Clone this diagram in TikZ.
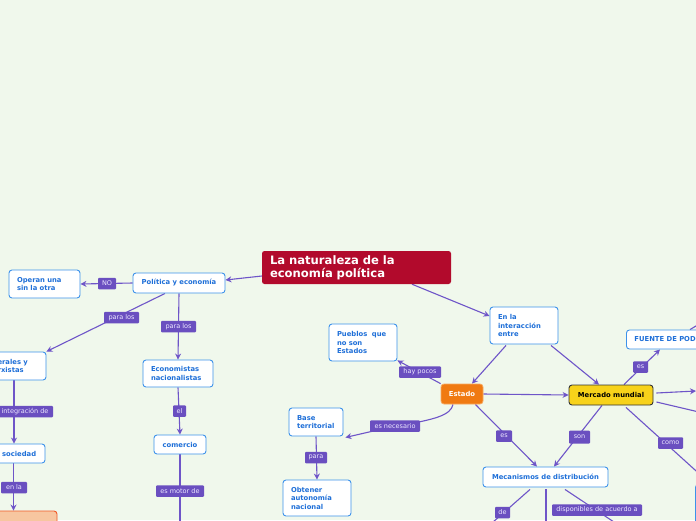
\documentclass[tikz,border=0pt]{standalone}
\usepackage{fontspec}
\setmainfont{DejaVu Sans}
\usetikzlibrary{arrows.meta,calc}
\definecolor{bgcol}{HTML}{F0F8EC}
\definecolor{boxblue}{HTML}{3D92EA}
\definecolor{txtblue}{HTML}{1E6FD8}
\definecolor{linecol}{HTML}{6E55C8}
\definecolor{lblpurple}{HTML}{6A4FC0}
\definecolor{lbltxt}{HTML}{EDE8FF}
\definecolor{titlecol}{HTML}{B20A2C}
\definecolor{estadocol}{HTML}{F07A12}
\definecolor{estadoedge}{HTML}{F6A860}
\definecolor{mercadocol}{HTML}{F7D21A}
\definecolor{orangefill}{HTML}{F7C6A0}
\definecolor{orangeedge}{HTML}{F05A28}
\pgfdeclarelayer{bg}
\pgfdeclarelayer{edges}
\pgfsetlayers{bg,edges,main}
\tikzset{
  box/.style={draw=boxblue, fill=white, rounded corners=3pt, line width=0.9pt,
    text=txtblue, font=\fontsize{6.8}{8.5}\selectfont\bfseries,
    inner xsep=8pt, inner ysep=0pt, align=left},
  cbox/.style={box, align=center},
  titlebox/.style={fill=titlecol, rounded corners=2.5pt, text=white,
    font=\fontsize{11.6}{13}\selectfont\bfseries, inner xsep=8pt, inner ysep=0pt, align=left},
  estadobox/.style={draw=estadoedge, fill=estadocol, rounded corners=3pt, line width=0.8pt,
    text=white, font=\fontsize{6.8}{8.5}\selectfont\bfseries, inner sep=0pt},
  mercadobox/.style={draw=black!80, fill=mercadocol, rounded corners=3pt, line width=0.9pt,
    text=black, font=\fontsize{6.8}{8.5}\selectfont\bfseries, inner sep=0pt},
  orangebox/.style={draw=orangeedge, fill=orangefill, rounded corners=3pt, line width=0.9pt, inner sep=0pt},
  lbl/.style={fill=lblpurple, text=lbltxt, font=\fontsize{6.5}{7}\selectfont,
    inner sep=0pt, rounded corners=1pt, minimum height=11.5pt},
  conn/.style={draw=linecol, line width=1.1pt, -{Stealth[length=6pt,width=6pt]}},
  plainconn/.style={draw=linecol, line width=1.1pt}
}
\begin{document}
\begin{tikzpicture}[x=1pt,y=-1pt]
\begin{pgfonlayer}{bg}
\fill[bgcol] (0,0) rectangle (696,520);
\end{pgfonlayer}
\useasboundingbox (0,0) rectangle (696,520);

% main nodes
\node[titlebox, text width=173pt, minimum height=33pt] (title) at (356.5,267.5) {La naturaleza de la\\economía política};
\node[cbox, minimum width=92pt, minimum height=20pt] (pol) at (179,283) {Política y economía};
\node[box, text width=55pt, minimum height=28pt] (operan) at (44.5,284) {Operan una\\sin la otra};
\node[box, text width=52pt, minimum height=28pt] (lib) at (12,366) {Liberales y\\marxistas};
\node[box, text width=54pt, minimum height=27pt] (econnac) at (178,373.5) {Economistas\\nacionalistas};
\node[cbox, minimum width=63pt, minimum height=19pt] (soc) at (13.5,453.5) {La sociedad};
\node[orangebox, minimum width=87pt, minimum height=34pt] (eco) at (13.5,528) {};
\node[cbox, minimum width=52pt, minimum height=19pt] (comercio) at (180,444.5) {comercio};
\node[box, text width=52pt, minimum height=37pt] (pueblos) at (363,342.5) {Pueblos\ \ que\\no son\\Estados};
\node[box, text width=52pt, minimum height=37pt] (inter) at (524,325.5) {En la\\interacción\\entre};
\node[estadobox, minimum width=42pt, minimum height=20pt] (estado) at (462,394) {Estado};
\node[mercadobox, minimum width=84pt, minimum height=20pt] (mercado) at (611,395) {Mercado mundial};
\node[box, anchor=west, minimum height=19pt] (fuente) at (626,339.5) {FUENTE DE PODER};
\node[box, anchor=west, minimum width=60pt, minimum height=20pt] (r1) at (696,391) {};
\node[box, anchor=north west, minimum width=60pt, minimum height=40pt] (r3) at (695,484) {};
\node[box, text width=38pt, minimum height=28pt] (base) at (316,422) {Base\\territorial};
\node[box, text width=52pt, minimum height=36pt] (obtener) at (317,498) {Obtener\\autonomía\\nacional};
\node[cbox, minimum width=125pt, minimum height=20pt] (mec) at (545.5,477) {Mecanismos de distribución};

% labels
\node[lbl, minimum width=18pt] (lno) at (107,283.5) {NO};
\node[lbl, minimum width=35pt] (lpara1) at (121.5,317.5) {para los};
\node[lbl, minimum width=35pt] (lpara2) at (178.5,326.5) {para los};
\node[lbl, minimum width=56pt] (linteg) at (25,411.5) {integración de};
\node[lbl, minimum width=26pt] (lenla) at (14,487.5) {en la};
\node[lbl, minimum width=13pt] (lel) at (179.5,411) {el};
\node[lbl, minimum width=48pt] (lmotor) at (180,491) {es motor de};
\node[lbl, minimum width=42pt] (lhay) at (420,372) {hay pocos};
\node[lbl, minimum width=50pt] (lnec) at (395,426) {es necesario};
\node[lbl, minimum width=22pt] (lparab) at (316,457.5) {para};
\node[lbl, minimum width=16pt] (les1) at (504,436) {es};
\node[lbl, minimum width=21pt, minimum height=13pt] (lson) at (579.5,437) {son};
\node[lbl, minimum width=15pt] (les2) at (640.5,367) {es};
\node[lbl, minimum width=25pt] (lcomo) at (670.5,443) {como};
\node[lbl, minimum width=15pt] (lde) at (502.5,512.5) {de};
\node[lbl, minimum width=90pt] (ldisp) at (597,510) {disponibles de acuerdo a};

% free ends
\coordinate (endcom) at (180,530);
\coordinate (endde) at (484,530);
\coordinate (endmec) at (546,530);
\coordinate (enddisp) at (626,530);
\coordinate (endr2) at (716,416);
\coordinate (endfu) at (716,314);

\begin{pgfonlayer}{edges}
\draw[conn] ($(title.west)+(0,8.5)$) -- ($(pol.east)+(0,-3)$);
\draw[conn] ($(title.south)+(55.5,0)$) -- ($(inter.west)+(0,-9.5)$);
\draw[conn] (pol.west) -- (operan.east);
\draw[conn] ($(pol.south)+(-14,0)$) -- ($(lib.north east)+(0,0)$);
\draw[conn] (pol.south) -- (econnac.north);
\draw[conn] ($(lib.south)+(2,0)$) -- ($(soc.north)+(0.5,0)$);
\draw[conn] (soc.south) -- (eco.north);
\draw[conn] (econnac.south) -- (comercio.north);
\draw[plainconn] (comercio.south) -- (endcom);
\draw[conn] ($(inter.south)+(-18,1)$) -- ($(estado.north)+(10,0)$);
\draw[conn] ($(inter.south)+(27,1)$) -- ($(mercado.north)+(-12,0)$);
\draw[conn] (estado.north west) -- ($(pueblos.south east)+(0,-1)$);
\draw[conn] (estado.east) -- (mercado.west);
\draw[conn] ($(estado.south)+(-9,0)$) .. controls (451,415) and (435,420) .. (lnec.center) -- ($(base.south east)+(2,1)$);
\draw[conn] ($(estado.south east)+(-8,0)$) -- ($(mec.north)+(-8.5,0)$);
\draw[conn] ($(mercado.south)+(-9,0)$) -- ($(mec.north)+(8.5,0)$);
\draw[conn] ($(mercado.north)+(13,0)$) -- ($(fuente.south west)+(34,0)$);
\draw[conn] ($(mercado.east)+(3,-2)$) -- (r1.west);
\draw[plainconn] ($(mercado.east)+(3,7)$) -- (endr2);
\draw[conn] ($(mercado.south)+(15,2)$) -- ($(r3.north west)+(10,-5)$);
\draw[plainconn] ($(fuente.north west)+(64,0)$) -- (endfu);
\draw[conn] (base.south) -- (obtener.north);
\draw[plainconn] ($(mec.south)+(-15.5,2)$) -- (endde);
\draw[plainconn] ($(mec.south)+(0.5,2)$) -- (endmec);
\draw[plainconn] ($(mec.south)+(19.5,2)$) -- (enddisp);
\end{pgfonlayer}
\end{tikzpicture}
\end{document}
